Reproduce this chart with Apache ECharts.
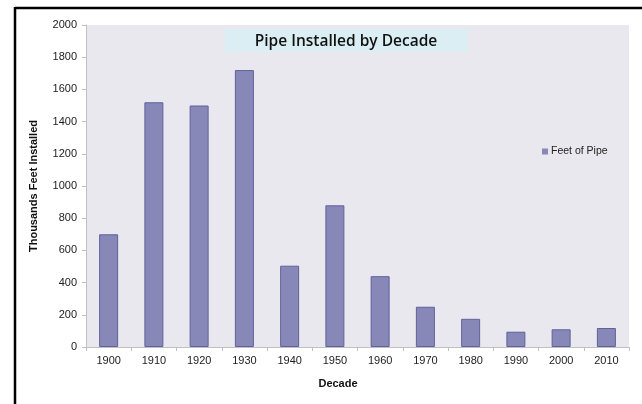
<!DOCTYPE html>
<html><head><meta charset="utf-8">
<script src="https://cdn.jsdelivr.net/npm/echarts@6/dist/echarts.min.js"></script>
<style>html,body{margin:0;padding:0;background:#fff}#c{width:642px;height:404px}</style>
</head><body><div id="c"></div>
<script>
var categories = ['1900','1910','1920','1930','1940','1950','1960','1970','1980','1990','2000','2010'];
var feetOfPipe = [700, 1520, 1500, 1720, 505, 880, 440, 250, 175, 95, 110, 118];
var yTicks = [0, 200, 400, 600, 800, 1000, 1200, 1400, 1600, 1800, 2000];
var seriesName = 'Feet of Pipe';
var titleText = 'Pipe Installed by Decade';
var yTitle = 'Thousands Feet Installed';
var xTitle = 'Decade';

var chart = echarts.init(document.getElementById('c'), null, {renderer: 'canvas'});
chart.setOption({
  animation: false,
  backgroundColor: '#fff',
  grid: {left: 86, top: 25, width: 543, height: 322, backgroundColor: '#e8e8ee', show: true, borderWidth: 0},
  legend: {
    data: [seriesName], left: 537, top: 141, itemWidth: 6, itemHeight: 6, itemGap: 2,
    icon: 'rect',
    itemStyle: {borderWidth: 0},
    textStyle: {fontFamily: 'Liberation Sans', fontSize: 10.5, color: '#222', padding: [0,0,0,-2]}
  },
  xAxis: {
    type: 'category', data: categories,
    axisLine: {lineStyle: {color: '#bfbfc4', width: 1}},
    axisTick: {show: true, length: 4, lineStyle: {color: '#bfbfc4'}},
    axisLabel: {fontFamily: 'Liberation Sans', fontSize: 11, color: '#222', margin: 8}
  },
  yAxis: {
    type: 'value', min: yTicks[0], max: yTicks[yTicks.length-1], interval: 200,
    axisLine: {show: true, lineStyle: {color: '#bfbfc4', width: 1}},
    axisTick: {show: true, length: 4, lineStyle: {color: '#bfbfc4'}},
    splitLine: {show: false},
    axisLabel: {fontFamily: 'Liberation Sans', fontSize: 11, color: '#222', margin: 9,
      formatter: function (v) { return String(v); }}
  },
  series: [{
    name: seriesName, type: 'bar', data: feetOfPipe, barWidth: 19,
    itemStyle: {color: '#8888b8', borderColor: '#60609c', borderWidth: 1}
  }],
  graphic: [
    {type: 'line', shape: {x1: 15, y1: 8, x2: 642, y2: 8}, style: {stroke: '#000', lineWidth: 2.5}},
    {type: 'line', shape: {x1: 15, y1: 7, x2: 15, y2: 404}, style: {stroke: '#000', lineWidth: 2.5}},
    {type: 'rect', shape: {x: 225, y: 29, width: 243, height: 23}, style: {fill: '#daeef3'}},
    {type: 'text', style: {text: titleText, x: 346, y: 42, align: 'center', verticalAlign: 'middle', font: '600 15.5px "Open Sans"', fill: '#111'}},
    {type: 'text', style: {text: yTitle, x: 0, y: 0, align: 'center', verticalAlign: 'middle', font: 'bold 11px "Liberation Sans"', fill: '#111'}, x: 34, y: 186, rotation: Math.PI/2},
    {type: 'text', style: {text: xTitle, x: 338, y: 384, align: 'center', verticalAlign: 'middle', font: 'bold 11px "Liberation Sans"', fill: '#111'}}
  ]
});
</script></body></html>
